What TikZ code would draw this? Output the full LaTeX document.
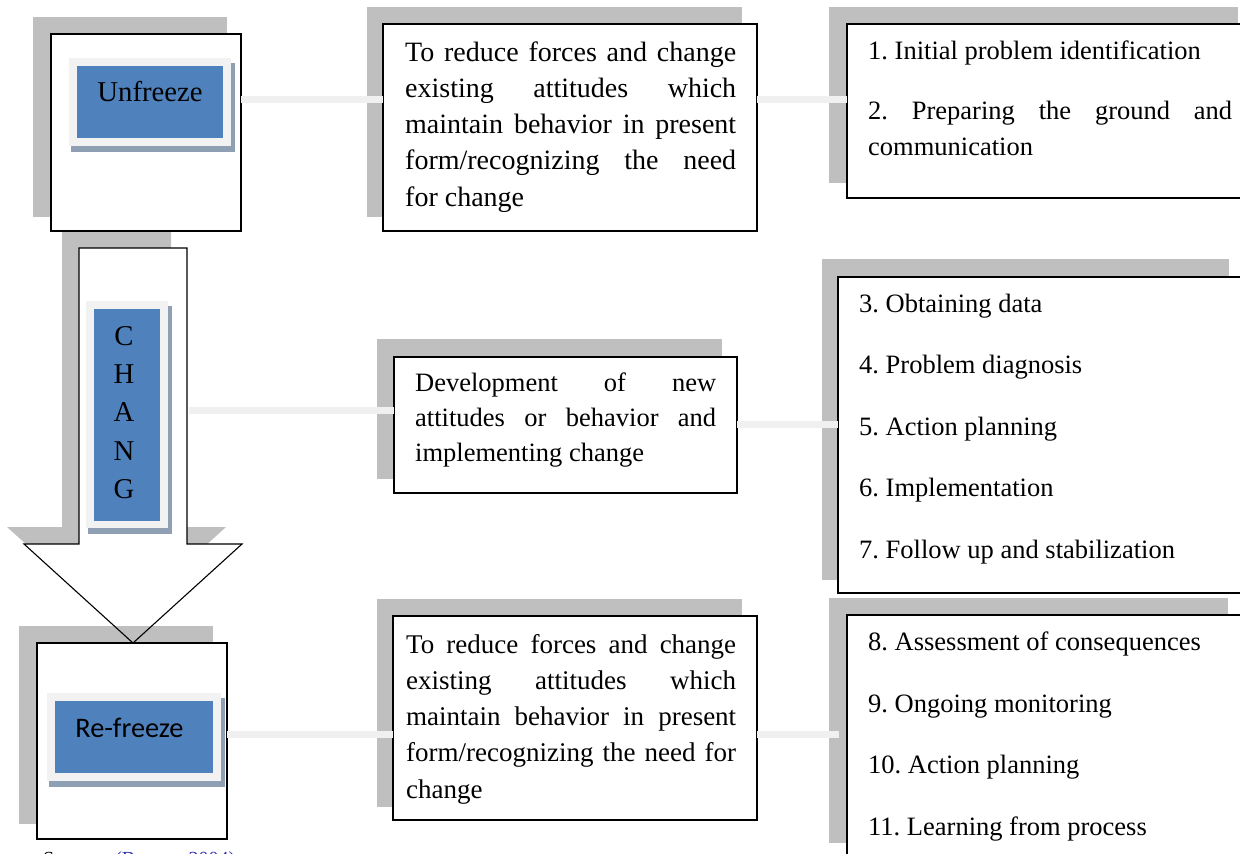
\documentclass[tikz,border=0pt]{standalone}
\usepackage{fontspec}
\setmainfont{Liberation Serif}
\newfontfamily\carl{Carlito}
\definecolor{shgray}{HTML}{BFBFBF}
\definecolor{framegray}{HTML}{F2F2F2}
\definecolor{bluefill}{HTML}{4F81BD}
\definecolor{dkshadow}{HTML}{8FA0B5}
\definecolor{conngray}{HTML}{F0F0F0}
\definecolor{citeblue}{HTML}{3030B0}
\frenchspacing
\hyphenpenalty=10000
\begin{document}
\begin{tikzpicture}[x=1pt,y=-1pt,
  shadowbox/.style={fill=shgray},
  mainbox/.style={draw=black, fill=white, line width=1.3pt, inner sep=0pt, outer sep=0pt, anchor=north west},
  frameg/.style={fill=framegray},
  bluebox/.style={fill=bluefill},
  dkshad/.style={fill=dkshadow},
  conn/.style={draw=conngray, line width=7pt},
  arrowline/.style={draw=black, line width=1.1pt, line join=miter},
  bigtxt/.style={inner sep=0pt, anchor=base, font=\fontsize{28.7}{36}\selectfont},
  jtxt/.style={inner sep=0pt, anchor=base west, align=justify},
  item/.style={inner sep=0pt, anchor=base west, font=\fontsize{26.5}{36}\selectfont},
]
\clip (0,0) rectangle (1240,854);
\def\arrowpath{(79,248) -- (187,248) -- (187,544) -- (242,544) -- (133,643) -- (24,544) -- (79,544) -- cycle}
% shadows
\path[shadowbox] (33,17) rectangle (227,217);
\path[shadowbox] (62,231) -- (171,231) -- (171,527) -- (226,527) -- (117,626) -- (7,527) -- (62,527) -- cycle;
% unfreeze box
\node[mainbox, minimum width=190, minimum height=197] (uf) at (51,34) {};
% arrow body
\path[fill=white] \arrowpath;
% refreeze shadow and arrow outline
\path[shadowbox] (19,626) rectangle (213,824);
\draw[arrowline] \arrowpath;
\node[mainbox, minimum width=190, minimum height=196] (rf) at (37,643) {};
% other shadows
\path[shadowbox] (367,7) rectangle (742,217);
\path[shadowbox] (829,7) rectangle (1238,183);
\path[shadowbox] (377,339) rectangle (722,479);
\path[shadowbox] (822,259) rectangle (1229,580);
\path[shadowbox] (377,599) rectangle (742,807);
\path[shadowbox] (829,598) rectangle (1228,843);
% main boxes
\node[mainbox, minimum width=374, minimum height=207] (tb1) at (383,24) {};
\node[mainbox, minimum width=403, minimum height=174] (rb1) at (847,24) {};
\node[mainbox, minimum width=343, minimum height=136] (mb2) at (394,357) {};
\node[mainbox, minimum width=412, minimum height=316] (rb2) at (838,277) {};
\node[mainbox, minimum width=364, minimum height=204] (tb3) at (393,616) {};
\node[mainbox, minimum width=403, minimum height=265] (rb3) at (847,615) {};
% inner labels
\path[dkshad] (71,63) rectangle (235,152);
\path[frameg] (69,58) rectangle (231,146);
\path[bluebox] (77,66) rectangle (223,138);
\path[dkshad] (88,306) rectangle (172,534);
\path[frameg] (86,301) rectangle (168,528);
\path[bluebox] (94,309) rectangle (160,521);
\path[dkshad] (49,698) rectangle (225,787);
\path[frameg] (47,693) rectangle (221,781);
\path[bluebox] (55,701) rectangle (213,773);
% connectors
\coordinate (arr) at (189,410);
\coordinate (e6) at (839,734);
\draw[conn] (uf.east |- 0,99) -- (tb1.west |- 0,99);
\draw[conn] (tb1.east |- 0,99) -- (rb1.west |- 0,99);
\draw[conn] (arr) -- (mb2.west |- arr);
\draw[conn] (mb2.east |- 0,424) -- (rb2.west |- 0,424);
\draw[conn] (rf.east |- 0,734) -- (tb3.west |- 0,734);
\draw[conn] (tb3.east |- 0,734) -- (e6);
% texts
\node[bigtxt] (ufl) at (150,101.7) {Unfreeze};
\node[bigtxt] (c1) at (124,345) {C};
\node[bigtxt] (c2) at (124,383.3) {H};
\node[bigtxt] (c3) at (124,421.6) {A};
\node[bigtxt] (c4) at (124,460) {N};
\node[bigtxt] (c5) at (124,498.2) {G};
\node[inner sep=0pt, anchor=base, font=\carl\fontsize{28.3}{34}\selectfont] (rfl) at (129.5,737) {Re-freeze};
\node[jtxt, text width=331, font=\fontsize{28}{36.3}\selectfont] (t1) at (405,61)
  {To reduce forces and change\linebreak existing attitudes which\linebreak maintain behavior in present\linebreak form/recognizing the need\linebreak for change};
\node[jtxt, text width=301, font=\fontsize{26.5}{35}\selectfont] (t2) at (415,391.7)
  {Development of new\linebreak attitudes or behavior and\linebreak implementing change};
\node[jtxt, text width=330, font=\fontsize{27}{36.3}\selectfont] (t3) at (406,653)
  {To reduce forces and change\linebreak existing attitudes which\linebreak maintain behavior in present\linebreak form/recognizing the need for\linebreak change};
\node[item] (s1) at (868,59) {1. Initial problem identification};
\node[jtxt, text width=364, font=\fontsize{26.5}{36.5}\selectfont] (s2) at (868,119)
  {2. Preparing the ground and\linebreak communication};
\node[item] (s3) at (859,312) {3. Obtaining data};
\node[item] (s4) at (859,373.5) {4. Problem diagnosis};
\node[item] (s5) at (859,435) {5. Action planning};
\node[item] (s6) at (859,496.5) {6. Implementation};
\node[item] (s7) at (859,558) {7. Follow up and stabilization};
\node[item] (s8) at (868,650) {8. Assessment of consequences};
\node[item] (s9) at (868,712) {9. Ongoing monitoring};
\node[item] (s10) at (868,773.5) {10. Action planning};
\node[item] (s11) at (868,835) {11. Learning from process};
\node[inner sep=0pt, anchor=base west, font=\fontsize{20}{24}\selectfont] (src) at (43,865)
  {Source:\hspace{11pt}\textcolor{citeblue}{(Burnes, 2004)}};
\end{tikzpicture}
\end{document}
